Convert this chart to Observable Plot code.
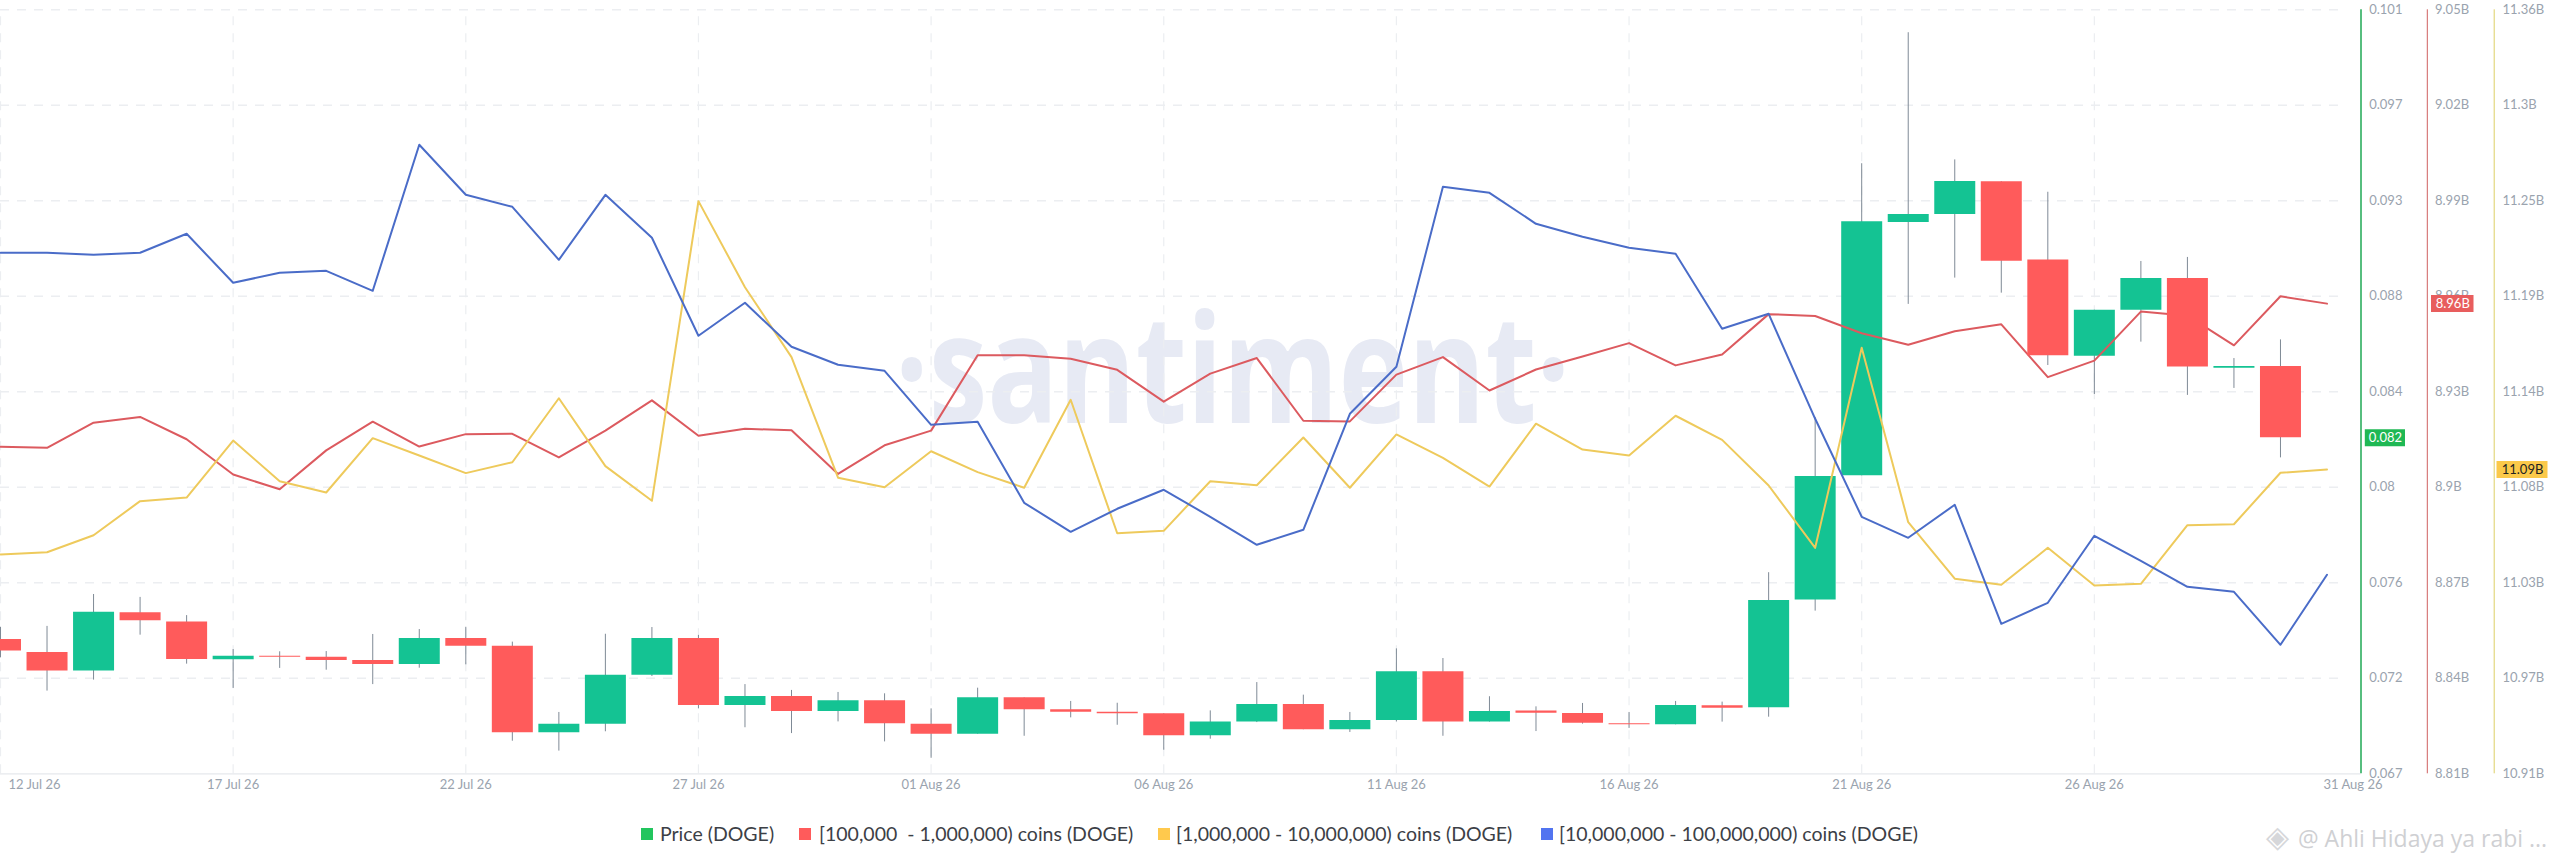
<!DOCTYPE html>
<html><head><meta charset="utf-8">
<script src="https://cdn.jsdelivr.net/npm/d3@7"></script>
<script src="https://cdn.jsdelivr.net/npm/@observablehq/plot@0.6"></script>
<style>
html,body{margin:0;padding:0;background:#fff;overflow:hidden;width:2560px;height:867px;font-family:Lato,sans-serif}
svg{display:block}
#legend{position:relative;width:2560px;height:57px}
#legend span{position:absolute;white-space:pre;line-height:1.2}
#legend i{position:absolute;width:12px;height:12px;top:18px}
#legend .t{top:12px;font-size:19.5px;color:#3c4046}
#legend .wm{top:15px;left:2298px;font-size:23px;color:#cfd0d3;font-family:"Open Sans"}
#legend .ic{top:9px;left:2266px;font-size:30px;color:#d6d7da;font-family:"DejaVu Sans"}
</style></head><body>
<div id="chart"></div>
<div id="legend">
<i style="left:641px;background:#22c55e"></i><span class="t" style="left:660px">Price (DOGE)</span>
<i style="left:799px;background:#ff5b5b"></i><span class="t" style="left:819px">[100,000  - 1,000,000) coins (DOGE)</span>
<i style="left:1158px;background:#ffc94d"></i><span class="t" style="left:1176px">[1,000,000 - 10,000,000) coins (DOGE)</span>
<i style="left:1541px;background:#5274f0"></i><span class="t" style="left:1559px">[10,000,000 - 100,000,000) coins (DOGE)</span>
<span class="ic">◈</span><span class="wm">@ Ahli Hidaya ya rabi ...</span>
</div>
<script>
const open = [.07298,.07240,.07158,.07417,.07376,.07207,.07223,.07219,.07204,.07186,.07302,.07268,.06883,.06921,.07139,.07302,.07004,.07044,.06977,.07025,.06921,.06876,.07038,.06985,.06974,.06967,.06869,.06931,.07008,.06896,.06937,.07154,.06930,.06979,.06968,.06923,.06918,.07003,.06994,.07473,.08026,.09153,.09189,.09335,.08986,.08558,.08763,.08904,.08505,.08513];
const close = [.07246,.07158,.07419,.07381,.07209,.07223,.07219,.07204,.07186,.07302,.07268,.06883,.06921,.07139,.07302,.07004,.07044,.06977,.07025,.06923,.06876,.07038,.06985,.06974,.06967,.06869,.06931,.07008,.06896,.06937,.07154,.06930,.06977,.06970,.06925,.06918,.07004,.06992,.07471,.08023,.09157,.09189,.09336,.08981,.08560,.08763,.08904,.08510,.08513,.08195];
const high = [.07352,.07356,.07498,.07485,.07404,.07253,.07243,.07244,.07320,.07342,.07352,.07286,.06973,.07321,.07351,.07316,.07097,.07071,.07062,.07056,.06989,.07081,.07038,.07022,.07014,.06967,.06980,.07106,.07050,.06973,.07256,.07213,.07043,.06998,.07013,.06973,.07022,.07019,.07595,.08286,.09415,.09998,.09432,.09335,.09288,.08763,.08980,.08998,.08548,.08631];
const low = [.07216,.07068,.07117,.07317,.07188,.07080,.07169,.07161,.07097,.07170,.07185,.06845,.06801,.06887,.07133,.06989,.06905,.06879,.06931,.06842,.06769,.06876,.06867,.06949,.06916,.06805,.06854,.06928,.06896,.06884,.06931,.06867,.06930,.06888,.06921,.06902,.06918,.06930,.06952,.07424,.08026,.08789,.08906,.08839,.08517,.08388,.08621,.08384,.08415,.08106];
const coins100k = [8.9127,8.9124,8.9203,8.9221,8.9151,8.9040,8.8994,8.9116,8.9206,8.9128,8.9167,8.9168,8.9094,8.9178,8.9273,8.9162,8.9184,8.9179,8.9042,8.9132,8.9178,8.9415,8.9415,8.9404,8.9369,8.9269,8.9357,8.9406,8.9209,8.9207,8.9354,8.9409,8.9304,8.9370,8.9411,8.9453,8.9383,8.9417,8.9544,8.9538,8.9484,8.9448,8.9490,8.9512,8.9346,8.9398,8.9552,8.9539,8.9446,8.9600,8.9577];
const coins1m = [11.0392,11.0405,11.0505,11.0706,11.0727,11.1063,11.0823,11.0757,11.1077,11.0975,11.0871,11.0935,11.1312,11.0912,11.0708,11.2473,11.1966,11.1554,11.0844,11.0788,11.1000,11.0877,11.0785,11.1303,11.0517,11.0531,11.0823,11.0800,11.1081,11.0785,11.1099,11.0961,11.0792,11.1162,11.1010,11.0975,11.1209,11.1067,11.0798,11.0431,11.1609,11.0582,11.0249,11.0213,11.0431,11.0209,11.0219,11.0564,11.0570,11.0873,11.0892];
const coins10m = [21.521,21.521,21.519,21.521,21.540,21.491,21.501,21.503,21.483,21.629,21.579,21.567,21.514,21.579,21.536,21.438,21.471,21.427,21.409,21.403,21.349,21.352,21.271,21.242,21.265,21.284,21.257,21.229,21.244,21.360,21.407,21.587,21.581,21.550,21.537,21.526,21.520,21.445,21.460,21.355,21.257,21.236,21.269,21.150,21.171,21.238,21.213,21.187,21.182,21.129,21.199];
const axisPositions = [0.101,0.09675,0.0925,0.08825,0.084,0.07975,0.0755,0.07125,0.067];
const priceLabels = ["0.101","0.097","0.093","0.088","0.084","0.08","0.076","0.072","0.067"];
const redLabels = ["9.05B","9.02B","8.99B","8.96B","8.93B","8.9B","8.87B","8.84B","8.81B"];
const yellowLabels = ["11.36B","11.3B","11.25B","11.19B","11.14B","11.08B","11.03B","10.97B","10.91B"];
const dateLabels = ["12 Jul 26","17 Jul 26","22 Jul 26","27 Jul 26","01 Aug 26","06 Aug 26","11 Aug 26","16 Aug 26","21 Aug 26","26 Aug 26","31 Aug 26"];
const brand = "·santiment·";

const DAY = 864e5, start = Date.UTC(2026,6,12), dayPx = 2326.5/50;
const dateAt = i => new Date(start + i*DAY);
const end = dateAt(50);
const past = px => new Date(+end + px/dayPx*DAY);
const tickDates = dateLabels.map((_,i)=>dateAt(i*5));
const labelOf = new Map(tickDates.map((d,i)=>[+d,dateLabels[i]]));

const redToPrice = d3.scaleLinear([8.81,9.05],[0.067,0.101]);
const yellowToPrice = d3.scaleLinear([10.91,11.36],[0.067,0.101]);
const blueToPrice = d3.scaleLinear([21,21.764],[0.067,0.101]);

const candles = open.map((o,i)=>({date:dateAt(i),top:Math.max(o,close[i]),bottom:Math.min(o,close[i]),high:high[i],low:low[i],up:close[i]>=o}));
const lineOf = (vals,f)=>vals.map((v,i)=>({date:dateAt(i),v:f(v)}));
const redLine = lineOf(coins100k,redToPrice), yellowLine = lineOf(coins1m,yellowToPrice), blueLine = lineOf(coins10m,blueToPrice);

const G="#14c393", R="#ff5b5b", bw=41;
const yAxis=(labels,dx)=>{const m=new Map(axisPositions.map((p,i)=>[p,labels[i]]));
  return Plot.axisY({anchor:"right",ticks:axisPositions,tickSize:0,tickPadding:0,dx,tickFormat:d=>m.get(d),label:null,fill:"#9aa3ae",fontSize:13,textAnchor:"start"});};
const badge=(x1,x2,v,label,bg,fg)=>{const row=[{x1:past(x1),x2:past(x2),xc:past((x1+x2)/2),y:v,label}];
  return [Plot.ruleY(row,{x1:"x1",x2:"x2",y:"y",stroke:bg,strokeWidth:17}),
          Plot.text(row,{x:"xc",y:"y",text:"label",fill:fg,fontSize:13})];};
const vAxis=(px,color,w)=>Plot.ruleX([end],{dx:px,y1:0.067,y2:0.101,stroke:color,strokeWidth:w});

const chart = Plot.plot({
  width:2560,height:810,marginLeft:0,marginRight:233.5,marginTop:9.3,marginBottom:36.7,
  style:{background:"#fff",fontFamily:"Lato, sans-serif",overflow:"hidden"},
  x:{type:"utc",domain:[new Date(start),end],range:[0,2326.5],axis:null},
  y:{domain:[0.067,0.101],range:[773.3,9.3],axis:null},
  marks:[
    Plot.text([{x:dateAt(26.48),y:0.08473,t:brand}],{x:"x",y:"y",text:"t",fontSize:150,fontWeight:700,fill:"#e7eaf4",fontFamily:"Open Sans",textAnchor:"middle"}),
    Plot.ruleY(axisPositions.slice(0,-1),{x1:()=>new Date(start),x2:()=>past(15.5),stroke:"#eceef1",strokeWidth:1.5,strokeDasharray:"9,8"}),
    Plot.ruleX(tickDates.slice(0,-1),{y1:0.067,y2:0.101,stroke:"#eceef1",strokeWidth:1.2,strokeDasharray:"9,8"}),
    Plot.ruleY([0.067],{x1:()=>new Date(start),x2:()=>past(34),stroke:"#e6e8ec",strokeWidth:1.2}),
    vAxis(34,"#1fa854",1.5),vAxis(100.3,"#d0605f",1),vAxis(167.2,"#ddcf66",1),
    Plot.axisX({ticks:tickDates.slice(0,1),tickSize:0,tickPadding:6,dx:34,tickFormat:d=>labelOf.get(+d),label:null,fill:"#9aa3ae",fontSize:13}),
    Plot.axisX({ticks:tickDates.slice(1,-1),tickSize:0,tickPadding:6,tickFormat:d=>labelOf.get(+d),label:null,fill:"#9aa3ae",fontSize:13}),
    Plot.axisX({ticks:tickDates.slice(-1),tickSize:0,tickPadding:6,dx:26,tickFormat:d=>labelOf.get(+d),label:null,fill:"#9aa3ae",fontSize:13}),
    yAxis(priceLabels,42.2),yAxis(redLabels,108),yAxis(yellowLabels,175.5),
    Plot.ruleX(candles,{x:"date",y1:"low",y2:"high",stroke:"#7f8a96",strokeWidth:1}),
    Plot.ruleX(candles.filter(d=>d.up),{x:"date",y1:"bottom",y2:"top",stroke:G,strokeWidth:bw}),
    Plot.line(redLine,{x:"date",y:"v",stroke:"#dc5a5f",strokeWidth:2}),
    Plot.ruleX(candles.filter(d=>!d.up),{x:"date",y1:"bottom",y2:"top",stroke:R,strokeWidth:bw}),
    Plot.line(yellowLine,{x:"date",y:"v",stroke:"#eeca5c",strokeWidth:2}),
    Plot.line(blueLine,{x:"date",y:"v",stroke:"#4a6cc8",strokeWidth:2}),
    badge(38.3,78.5,close[close.length-1],"0.082","#1fb854","#fff"),
    badge(104.5,147,redToPrice(coins100k[coins100k.length-1]),"8.96B","#e85d5d","#fff"),
    badge(170,221,yellowToPrice(coins1m[coins1m.length-1]),"11.09B","#fbc94a","#222")
  ]
});
document.getElementById("chart").appendChild(chart);
// The brand mark is condensed in the reference: fit its text to the same width.
chart.querySelectorAll("text").forEach(t=>{
  if(t.textContent===brand){t.setAttribute("textLength","675");t.setAttribute("lengthAdjust","spacingAndGlyphs");}
});
</script>
</body></html>
